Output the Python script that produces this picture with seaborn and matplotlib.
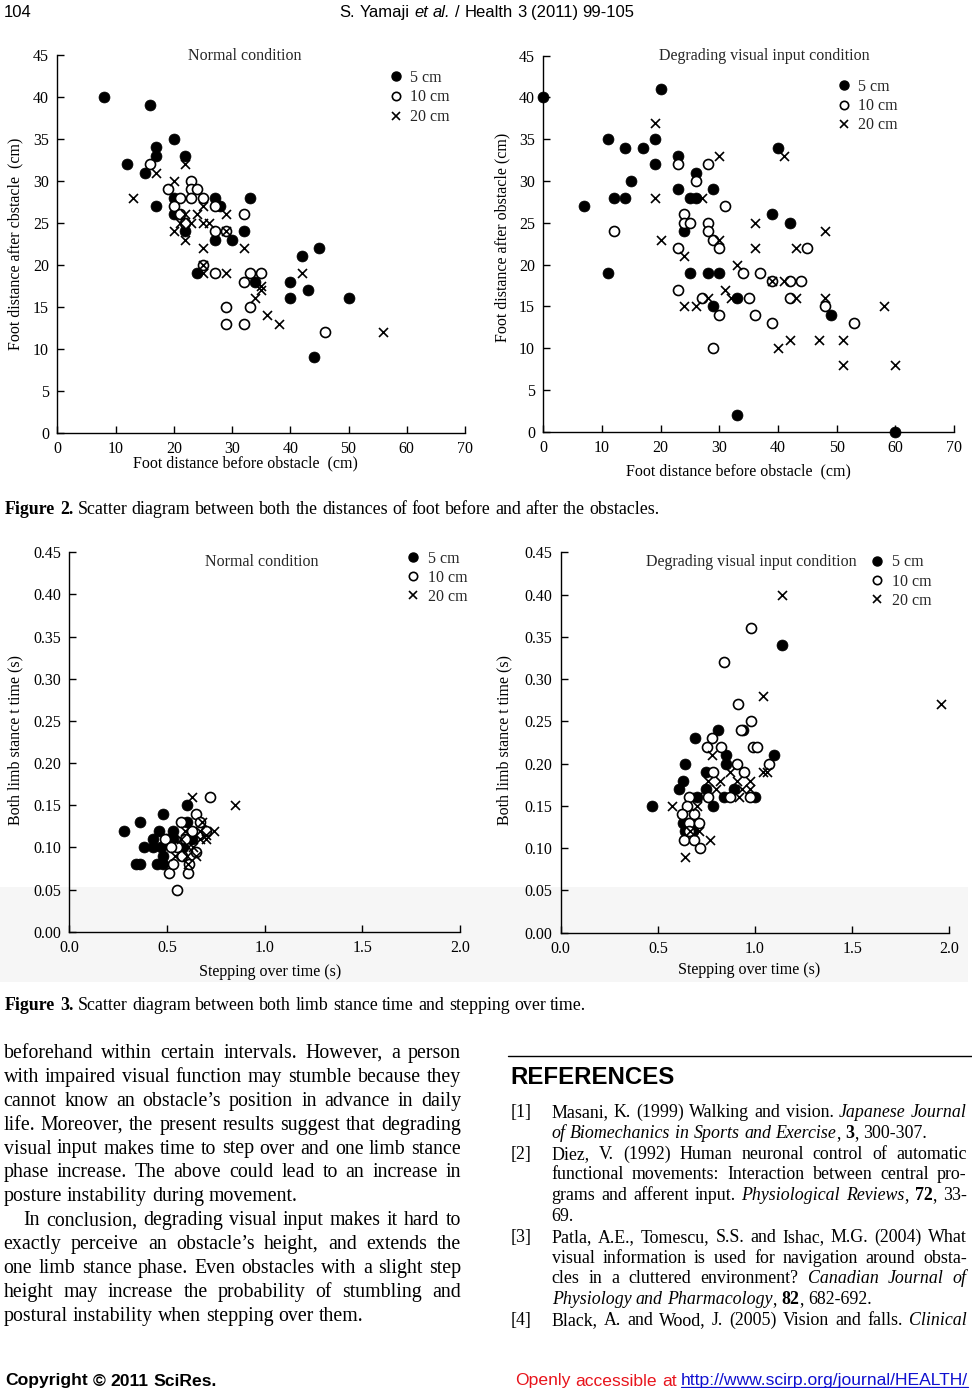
import matplotlib
matplotlib.use("Agg")
import matplotlib.pyplot as plt
import numpy as np
import pandas as pd
import seaborn as sns
from matplotlib.lines import Line2D
from matplotlib.patches import Rectangle

# ---------------- data ----------------
heights = ["5 cm", "10 cm", "20 cm"]

# Figure 2, normal condition: before / after obstacle (cm)
a5_x = [8, 16, 20, 17, 17, 22, 12, 15, 17, 20, 20, 22, 27, 28, 27, 30, 33, 32, 24, 34, 42, 45, 40, 40, 43, 50, 44]
a5_y = [40, 39, 35, 34, 33, 33, 32, 31, 27, 28, 26, 24, 28, 27, 23, 23, 28, 24, 19, 18, 21, 22, 18, 16, 17, 16, 9]
a10_x = [16, 19, 23, 23, 24, 21, 23, 25, 20, 27, 21, 22, 27, 29, 32, 25, 27, 32, 33, 35, 33, 29, 29, 32, 46]
a10_y = [32, 29, 30, 29, 29, 28, 28, 28, 27, 27, 26, 25, 24, 24, 26, 20, 19, 18, 19, 19, 15, 15, 13, 13, 12]
a20_x = [13, 17, 22, 20, 20, 22, 22, 24, 23, 25, 25, 26, 21, 25, 25, 25, 29, 29, 29, 32, 35, 35, 34, 36, 38, 42, 56]
a20_y = [28, 31, 32, 30, 24, 23, 26, 26, 25, 27, 25, 25, 25, 22, 20, 19, 19, 26, 24, 22, 17.5, 17, 16, 14, 13, 19, 12]

# Figure 2, degrading visual input condition
b5_x = [0, 20, 11, 19, 14, 17, 19, 23, 26, 15, 23, 29, 7, 12, 14, 25, 26, 24, 11, 25, 28, 30, 33, 29, 40, 39, 42, 49, 33, 60]
b5_y = [40, 41, 35, 35, 34, 34, 32, 33, 31, 30, 29, 29, 27, 28, 28, 28, 28, 24, 19, 19, 19, 19, 16, 15, 34, 26, 25, 14, 2, 0]
b10_x = [23, 28, 26, 31, 24, 24, 25, 28, 28, 12, 23, 29, 30, 45, 34, 37, 39, 42, 44, 23, 27, 35, 42, 30, 36, 39, 48, 53, 29]
b10_y = [32, 32, 30, 27, 26, 25, 25, 25, 24, 24, 22, 23, 22, 22, 19, 19, 18, 18, 18, 17, 16, 16, 16, 14, 14, 13, 15, 13, 10]
b20_x = [19, 19, 20, 24, 24, 26, 28, 27, 30, 30, 31, 32, 33, 36, 36, 39, 41, 41, 43, 43, 40, 42, 47, 48, 48, 51, 51, 58, 60]
b20_y = [37, 28, 23, 21, 15, 15, 16, 28, 33, 23, 17, 16, 20, 25, 22, 18, 33, 18, 22, 16, 10, 11, 11, 24, 16, 11, 8, 15, 8]

# Figure 3, normal condition: stepping over time / both limb stance time (s)
c5_x = [0.28, 0.36, 0.34, 0.36, 0.38, 0.43, 0.43, 0.45, 0.46, 0.48, 0.47, 0.48, 0.48, 0.50, 0.53, 0.60, 0.60, 0.58, 0.63, 0.53]
c5_y = [0.12, 0.13, 0.08, 0.08, 0.10, 0.11, 0.10, 0.08, 0.12, 0.14, 0.10, 0.09, 0.08, 0.11, 0.12, 0.15, 0.13, 0.10, 0.11, 0.11]
c10_x = [0.55, 0.51, 0.61, 0.53, 0.49, 0.57, 0.72, 0.65, 0.55, 0.575, 0.59, 0.63, 0.67, 0.65, 0.615, 0.52, 0.70]
c10_y = [0.05, 0.07, 0.07, 0.08, 0.11, 0.13, 0.16, 0.14, 0.10, 0.09, 0.11, 0.12, 0.13, 0.095, 0.08, 0.10, 0.12]
c20_x = [0.63, 0.85, 0.68, 0.74, 0.70, 0.67, 0.61, 0.65, 0.61, 0.54, 0.59, 0.57, 0.635, 0.67, 0.70, 0.60]
c20_y = [0.16, 0.15, 0.13, 0.12, 0.11, 0.12, 0.10, 0.09, 0.08, 0.09, 0.12, 0.11, 0.10, 0.11, 0.115, 0.09]

# Figure 3, degrading visual input condition
d5_x = [0.47, 0.64, 0.63, 0.61, 0.63, 0.64, 0.67, 0.68, 0.69, 0.70, 0.75, 0.75, 0.785, 0.81, 0.84, 0.85, 0.85, 0.89, 0.94, 1.00, 1.10, 1.14, 0.66]
d5_y = [0.15, 0.20, 0.18, 0.17, 0.13, 0.12, 0.13, 0.12, 0.23, 0.16, 0.19, 0.17, 0.15, 0.24, 0.16, 0.21, 0.20, 0.17, 0.24, 0.16, 0.21, 0.34, 0.125]
d10_x = [0.98, 0.84, 0.91, 0.98, 0.93, 0.78, 0.755, 0.825, 0.99, 1.01, 0.785, 0.905, 1.07, 0.945, 0.66, 0.76, 0.87, 0.975, 0.65, 0.625, 0.685, 0.66, 0.71, 0.635, 0.685, 0.715, 0.66]
d10_y = [0.36, 0.32, 0.27, 0.25, 0.24, 0.23, 0.22, 0.22, 0.22, 0.22, 0.19, 0.20, 0.20, 0.19, 0.16, 0.16, 0.16, 0.16, 0.15, 0.14, 0.14, 0.13, 0.13, 0.11, 0.11, 0.10, 0.12]
d20_x = [1.14, 1.04, 1.955, 0.78, 0.87, 1.04, 1.06, 0.76, 0.82, 0.905, 0.975, 0.80, 0.935, 0.975, 0.92, 0.70, 0.575, 0.70, 0.71, 0.77, 0.64, 0.665]
d20_y = [0.40, 0.28, 0.27, 0.21, 0.19, 0.19, 0.19, 0.18, 0.18, 0.18, 0.18, 0.17, 0.17, 0.17, 0.16, 0.16, 0.15, 0.15, 0.12, 0.11, 0.09, 0.12]

dist_xticks = [0, 10, 20, 30, 40, 50, 60, 70]
dist_yticks = [0, 5, 10, 15, 20, 25, 30, 35, 40, 45]
time_xticks = [0.0, 0.5, 1.0, 1.5, 2.0]
time_yticks = [0.00, 0.05, 0.10, 0.15, 0.20, 0.25, 0.30, 0.35, 0.40, 0.45]

# ---------------- page text ----------------
header_left = "104"
header_mid = "S. Yamaji _et al._ / Health 3 (2011) 99-105"
caption2 = "^Figure 2.^ Scatter diagram between both the distances of foot before and after the obstacles."
caption3 = "^Figure 3.^ Scatter diagram between both limb stance time and stepping over time."
body_lines = [
    ("beforehand within certain intervals. However, a person", True, 0),
    ("with impaired visual function may stumble because they", True, 0),
    ("cannot know an obstacle\u2019s position in advance in daily", True, 0),
    ("life. Moreover, the present results suggest that degrading", True, 0),
    ("visual input makes time to step over and one limb stance", True, 0),
    ("phase increase. The above could lead to an increase in", True, 0),
    ("posture instability during movement.", False, 0),
    ("In conclusion, degrading visual input makes it hard to", True, 20),
    ("exactly perceive an obstacle\u2019s height, and extends the", True, 0),
    ("one limb stance phase. Even obstacles with a slight step", True, 0),
    ("height may increase the probability of stumbling and", True, 0),
    ("postural instability when stepping over them.", False, 0),
]
ref_lines = [
    ("[1]", "Masani, K. (1999) Walking and vision. _Japanese Journal_", True),
    (None, "_of Biomechanics in Sports and Exercise_, ^3^, 300-307.", False),
    ("[2]", "Diez, V. (1992) Human neuronal control of automatic", True),
    (None, "functional movements: Interaction between central pro-", True),
    (None, "grams and afferent input. _Physiological Reviews_, ^72^, 33-", True),
    (None, "69.", False),
    ("[3]", "Patla, A.E., Tomescu, S.S. and Ishac, M.G. (2004) What", True),
    (None, "visual information is used for navigation around obsta-", True),
    (None, "cles in a cluttered environment? _Canadian Journal of_", True),
    (None, "_Physiology and Pharmacology_, ^82^, 682-692.", False),
    ("[4]", "Black, A. and Wood, J. (2005) Vision and falls. _Clinical_", True),
]

# ---------------- setup ----------------
W, H = 972, 1388
sns.set_theme(style="white")
SERIF = ["Liberation Serif", "DejaVu Serif"]
SANS = ["Liberation Sans", "DejaVu Sans"]
plt.rcParams["font.family"] = SERIF
plt.rcParams["font.size"] = 11

fig = plt.figure(figsize=(W / 100, H / 100), dpi=100)
fig.patch.set_facecolor("white")
renderer = fig.canvas.get_renderer()


def fx(x):
    return x / W


def fy(y):
    return 1 - y / H


# faint scan band behind the lower part of Figure 3
fig.patches.append(Rectangle((0, fy(982)), 968 / W, 95 / H, transform=fig.transFigure,
                             facecolor="#f6f6f6", edgecolor="none", zorder=-10))

STYLE = {
    "5 cm": dict(marker="o", s=62, color="black", edgecolor="black", linewidth=0.5),
    "10 cm": dict(marker="o", s=52, color="black", facecolor="white", edgecolor="black", linewidth=1.2),
    "20 cm": dict(marker="x", s=42, color="black", linewidth=1.2),
}
LEG_HANDLES = [
    Line2D([], [], marker="o", linestyle="none", markersize=6.5, markerfacecolor="black", markeredgecolor="black"),
    Line2D([], [], marker="o", linestyle="none", markersize=6.0, markerfacecolor="white", markeredgecolor="black", markeredgewidth=1.2),
    Line2D([], [], marker="x", linestyle="none", markersize=5.5, color="black", markeredgewidth=1.2),
]
TICK_FS = 11.5
LAB_FS = 11.5


def make_df(xs, ys):
    rows = []
    for h, x, y in zip(heights, xs, ys):
        for a, b in zip(x, y):
            rows.append({"x": a, "y": b, "height": h})
    return pd.DataFrame(rows)


def panel(box, df, lims, xticks, yticks, xfmt, yfmt, title, tpos, xlabel, xlpos, ylabel, ylpos, legpos, legsp):
    x0, x1, yt, yb = box
    ax = fig.add_axes([fx(x0), fy(yb), (x1 - x0) / W, (yb - yt) / H])
    ax.set_facecolor("none")
    for h in heights:
        sns.scatterplot(data=df[df["height"] == h], x="x", y="y", ax=ax, legend=False,
                        zorder=3, clip_on=False, **STYLE[h])
    ax.set_xlim(*lims[0])
    ax.set_ylim(*lims[1])
    ax.set_xticks(xticks)
    ax.set_xticklabels([xfmt.format(v) for v in xticks])
    ax.set_yticks(yticks)
    ax.set_yticklabels([yfmt.format(v) for v in yticks])
    sns.despine(ax=ax)
    for s in ("left", "bottom"):
        ax.spines[s].set_color("black")
        ax.spines[s].set_linewidth(1.0)
    ax.tick_params(direction="in", length=5, width=1, colors="black", labelsize=TICK_FS, pad=6.0,
                   bottom=True, left=True)
    ax.grid(False)
    ax.set_xlabel(xlabel, fontsize=LAB_FS, color="black")
    ax.xaxis.set_label_coords(fx(xlpos[0]), fy(xlpos[1]), transform=fig.transFigure)
    ax.xaxis.label.set_va("center")
    ax.set_ylabel(ylabel, fontsize=LAB_FS, color="black")
    ax.yaxis.set_label_coords(fx(ylpos[0]), fy(ylpos[1]), transform=fig.transFigure)
    ax.yaxis.label.set_va("center")
    ax.yaxis.label.set_ha("center")
    fig.text(fx(tpos[0]), fy(tpos[1]), title, ha="center", va="center", fontsize=LAB_FS)
    fs_px = 11.5 * 100 / 72
    ax.legend(LEG_HANDLES, heights, loc="upper left",
              bbox_to_anchor=(fx(legpos[0] - 0.5 * fs_px), fy(legpos[1] - 9.5)),
              bbox_transform=fig.transFigure, frameon=False, borderpad=0, borderaxespad=0,
              handlelength=1.0, handletextpad=0.4, labelspacing=max(0.0, (legsp - 17.7) / fs_px),
              fontsize=11.5)
    return ax


panel((57.3, 465, 55, 432.7), make_df([a5_x, a10_x, a20_x], [a5_y, a10_y, a20_y]),
      ((0, 70), (0, 45)), dist_xticks, dist_yticks, "{:d}", "{:d}",
      "Normal condition", (245, 56), "Foot distance before obstacle  (cm)", (245, 463),
      "Foot distance after cbstacle  (cm)", (15, 244), (395.7, 79), 21.5)
panel((543.3, 954, 55.7, 431.7), make_df([b5_x, b10_x, b20_x], [b5_y, b10_y, b20_y]),
      ((0, 70), (0, 45)), dist_xticks, dist_yticks, "{:d}", "{:d}",
      "Degrading visual input condition", (764, 56), "Foot distance before obstacle  (cm)", (738, 471),
      "Foot distance after obstacle (cm)", (502, 237), (844, 88.3), 21.0)
panel((69.3, 460, 552.3, 931.7), make_df([c5_x, c10_x, c20_x], [c5_y, c10_y, c20_y]),
      ((0, 2.0), (0, 0.45)), time_xticks, time_yticks, "{:.1f}", "{:.2f}",
      "Normal condition", (262, 562), "Stepping over time (s)", (270, 972),
      "Both limb stance t time (s)", (15, 740), (413.3, 560), 20.8)
panel((560.7, 949.3, 552.3, 932.7), make_df([d5_x, d10_x, d20_x], [d5_y, d10_y, d20_y]),
      ((0, 2.0), (0, 0.45)), time_xticks, time_yticks, "{:.1f}", "{:.2f}",
      "Degrading visual input condition", (751, 562), "Stepping over time (s)", (749, 970),
      "Both limb stance t time (s)", (504, 740), (877.3, 564), 20.8)


# ---------------- rich text helpers ----------------
def parse(line):
    ital = bold = False
    words, cur = [], []
    for ch in line:
        if ch == "_":
            ital = not ital
            continue
        if ch == "^":
            bold = not bold
            continue
        if ch == " ":
            if cur:
                words.append(cur)
                cur = []
            continue
        st = ("i" if ital else "") + ("b" if bold else "")
        if cur and cur[-1][1] == st:
            cur[-1][0] += ch
        else:
            cur.append([ch, st])
    if cur:
        words.append(cur)
    return words


def make_text(s, st, ybase, size, family, color):
    return fig.text(0, fy(ybase), s, fontsize=size, family=family,
                    fontstyle="italic" if "i" in st else "normal",
                    fontweight="bold" if "b" in st else "normal",
                    color=color, ha="left", va="baseline")


def space_w(size, family):
    a = fig.text(0, 0, "n n", fontsize=size, family=family)
    b = fig.text(0, 0, "nn", fontsize=size, family=family)
    w = a.get_window_extent(renderer).width - b.get_window_extent(renderer).width
    a.remove()
    b.remove()
    return w


def draw_line(line, x0, ybase, size, family=SERIF, x1=None, justify=False, align="left", color="black"):
    words = parse(line)
    arts, widths = [], []
    for w in words:
        segs, tot = [], 0.0
        for txt, st in w:
            t = make_text(txt, st, ybase, size, family, color)
            wd = t.get_window_extent(renderer).width
            segs.append((t, wd))
            tot += wd
        arts.append(segs)
        widths.append(tot)
    sp = space_w(size, family)
    if justify and len(words) > 1 and x1 is not None:
        gap = max((x1 - x0 - sum(widths)) / (len(words) - 1), 0.4 * sp)
    else:
        gap = sp
    total = sum(widths) + gap * (len(words) - 1)
    if align == "center":
        start = x0 - total / 2
    elif align == "right":
        start = x0 - total
    else:
        start = x0
    x = start
    for segs, tot in zip(arts, widths):
        xx = x
        for t, wd in segs:
            t.set_x(fx(xx))
            xx += wd
        x += tot + gap
    return start, start + total


# header
draw_line(header_left, 4, 17, 12.0, SANS)
draw_line(header_mid, 487, 17, 12.0, SANS, align="center")

# captions
draw_line(caption2, 5, 514.5, 12.9)
draw_line(caption3, 5, 1009.5, 12.9)

# left column body text
for i, (txt, just, indent) in enumerate(body_lines):
    yb = 1051.7 + 23.95 * i + 6
    draw_line(txt, 3.5 + indent, yb, 14.3, SERIF, x1=461, justify=just)

# right column: rule, heading, references
fig.add_artist(Line2D([fx(508), fx(972)], [fy(1056), fy(1056)], transform=fig.transFigure,
                      color="black", linewidth=1.0))
draw_line("^REFERENCES^", 510.5, 1083.5, 17.3, SANS)
for i, (num, txt, just) in enumerate(ref_lines):
    yb = 1111.7 + 20.76 * i + 5.5
    if num:
        draw_line(num, 510.7, yb, 12.9, SERIF)
    draw_line(txt, 551.7, yb, 12.9, SERIF, x1=966.7, justify=just)

# footer
draw_line("^Copyright © 2011 SciRes.^", 5, 1385.5, 12.6, SANS)
ul, ur = draw_line("http://www.scirp.org/journal/HEALTH/", 968, 1385.5, 12.6, SANS, align="right", color="#1010d0")
draw_line("Openly accessible at", ul - 4, 1385.5, 12.6, SANS, align="right", color="#e8141c")
fig.add_artist(Line2D([fx(ul), fx(ur)], [fy(1387.2), fy(1387.2)], transform=fig.transFigure,
                      color="#1010d0", linewidth=0.9))

fig.savefig("out.png", dpi=100, facecolor="white")
